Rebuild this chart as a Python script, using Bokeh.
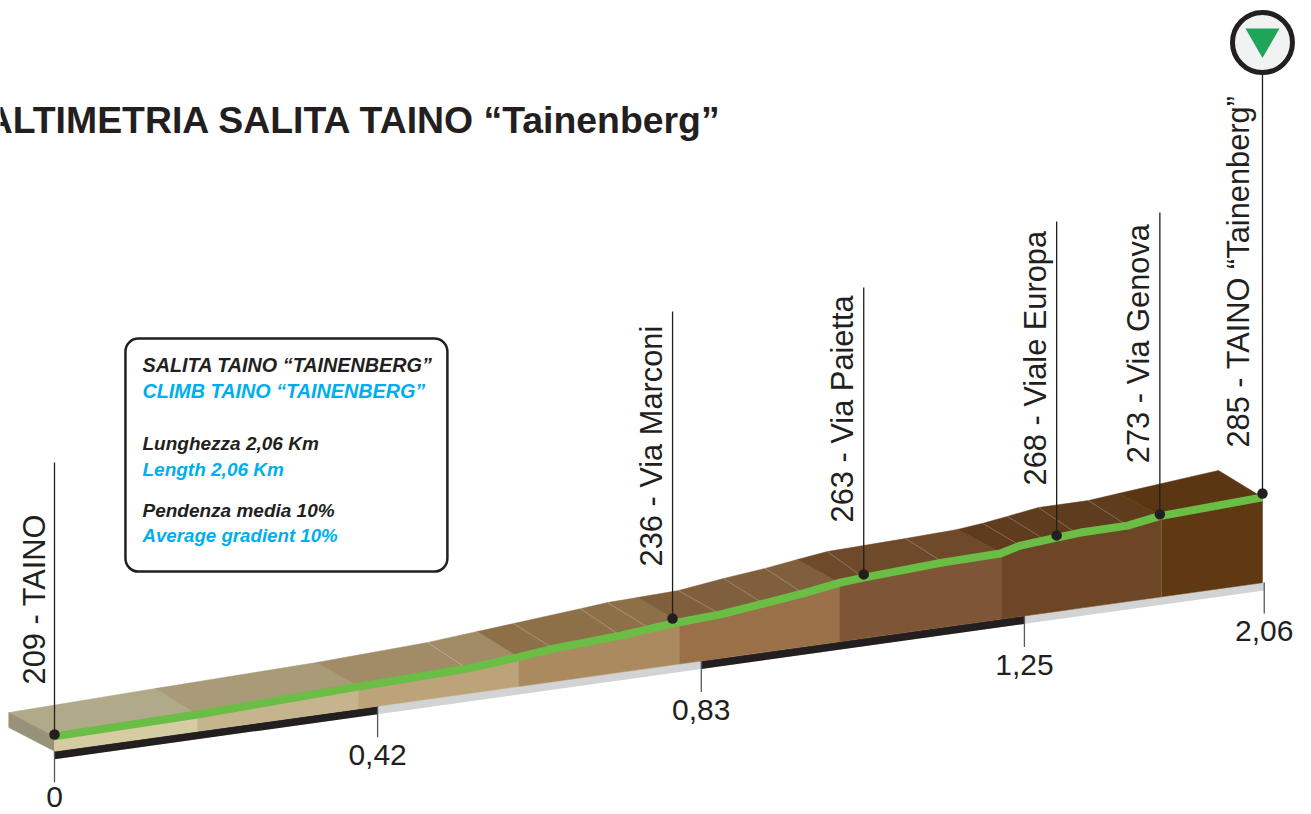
import numpy as np
from bokeh.core.properties import value
from bokeh.embed import file_html
from bokeh.models import ColumnDataSource, Range1d
from bokeh.plotting import figure
from bokeh.resources import INLINE

# --- profile: drawn distance (km) and drawn height (m) ---
profile_km = [0.0, 0.244, 0.518, 0.704, 0.790, 0.851, 0.965, 1.054, 1.136, 1.209, 1.277,
              1.340, 1.380, 1.516, 1.613, 1.647, 1.709, 1.750, 1.830, 1.883, 2.060]
profile_alt = [208.4, 215.3, 224.1, 229.8, 233.3, 236.1, 240.2, 244.0, 246.9, 250.3, 253.5,
               256.9, 258.5, 263.3, 266.1, 268.6, 271.1, 272.7, 274.9, 277.8, 283.8]

# far edge of the road surface
back_km = [-0.078, 0.172, 0.447, 0.636, 0.721, 0.783, 0.897, 0.943, 0.994, 1.064, 1.141,
           1.212, 1.267, 1.318, 1.451, 1.540, 1.583, 1.625, 1.678, 1.763, 1.814, 1.985]
back_alt = [215.9, 223.5, 231.7, 238.0, 241.5, 244.0, 248.7, 250.6, 252.2, 254.4, 258.2,
            261.4, 264.2, 266.7, 270.8, 273.7, 275.6, 277.8, 280.6, 282.8, 285.0, 292.3]

# colour bands: where each band starts/ends on the near and far edge
band_front_km = [0.0, 0.244, 0.518, 0.792, 1.066, 1.339, 1.615, 1.888, 2.060]
band_back_km = [-0.078, 0.172, 0.447, 0.721, 0.994, 1.267, 1.540, 1.814, 1.985]
band_front_colors = ["#d6cca2", "#c6b58c", "#bca379", "#ab8a60",
                     "#9a7048", "#7e5535", "#6d4725", "#5f3912"]
band_top_colors = ["#b0aa8a", "#a99a78", "#a28c68", "#8d7048",
                   "#805f3c", "#6f4a2a", "#603c1e", "#5a3712"]

# thin cross-lines on the surface
crease_back_km = [0.636, 0.783, 0.897, 0.943, 1.064, 1.141, 1.212, 1.318, 1.451, 1.583, 1.625, 1.678, 1.763]
crease_front_km = [0.704, 0.851, 0.965, 1.016, 1.136, 1.209, 1.277, 1.380, 1.516, 1.647, 1.690, 1.743, 1.830]

# ground line
ground_km = [0.0, 2.063]
ground_alt = [203.7, 256.95]
strip_depth = 2.5

# waypoints
way_km = [0.0, 1.054, 1.380, 1.709, 1.885, 2.060]
way_alt = [209.0, 245.6, 259.5, 271.8, 278.5, 285.0]
way_top = [294.8, 342.4, 350.0, 370.8, 373.7, 418.1]
way_labels = ["209 - TAINO", "236 - Via Marconi", "263 - Via Paietta",
              "268 - Viale Europa", "273 - Via Genova", "285 - TAINO “Tainenberg”"]
way_label_lift = [-50, -52, -52, -50, -51, -46]
way_label_side = [-20, -21, -21, -21, -21, -24]

# distance ticks
tick_at = [0.0, 0.551, 1.103, 1.654, 2.063]
tick_labels = ["0", "0,42", "0,83", "1,25", "2,06"]
tick_label_gap = [15, 17.5, 17.5, 17.5, 17.5]
tick_drop = 9.8
black_runs = [(0.0, 0.551), (1.103, 1.654)]

title = "ALTIMETRIA SALITA TAINO “Tainenberg”"
info_lines = ["SALITA TAINO “TAINENBERG”", "CLIMB TAINO “TAINENBERG”",
              "Lunghezza 2,06 Km", "Length 2,06 Km",
              "Pendenza media 10%", "Average gradient 10%"]
info_alt = [323.2, 315.0, 298.6, 290.4, 277.5, 269.6]
info_size = ["19.8px", "19.8px", "19px", "19px", "19px", "18.7px"]
info_colors = ["#231f20", "#00aeef"] * 3

FONT = value("Liberation Sans")
INK = "#231f20"

p = figure(width=1311, height=814, output_backend="svg", toolbar_location=None,
           x_range=Range1d(-0.09209, 2.14359), y_range=Range1d(183.76, 440.54),
           min_border=0, outline_line_color=None, background_fill_color="white")
p.axis.visible = False
p.grid.visible = False


def front_at(k):
    return np.interp(k, profile_km, profile_alt)


def back_at(k):
    return np.interp(k, back_km, back_alt)


def ground_at(k):
    return np.interp(k, ground_km, ground_alt)


def run(arr, a, b):
    arr = np.asarray(arr)
    return [a] + [float(v) for v in arr if a < v < b] + [b]


# road surface bands
top_x, top_y, front_x, front_y = [], [], [], []
for i in range(len(band_front_colors)):
    fa, fb = band_front_km[i], band_front_km[i + 1]
    ba, bb = band_back_km[i], band_back_km[i + 1]
    fk, bk = run(profile_km, fa, fb), run(back_km, ba, bb)
    top_x.append(fk + bk[::-1])
    top_y.append([float(front_at(k)) for k in fk] + [float(back_at(k)) for k in bk[::-1]])
    front_x.append(fk + fk[::-1])
    top_edge = [float(front_at(k)) for k in fk]
    low_edge = [float(ground_at(k)) for k in fk]
    front_y.append(top_edge + low_edge[::-1])

p.patches(top_x, top_y, fill_color=band_top_colors, line_color=band_top_colors, line_width=0.5)

# end face on the left
p.patch([back_km[0], 0.0, 0.0, back_km[0]],
        [back_alt[0], profile_alt[0], ground_alt[0], back_alt[0] - (profile_alt[0] - ground_alt[0])],
        fill_color="#97927a", line_color="#97927a", line_width=0.5)

# creases
p.segment(crease_back_km, [float(back_at(k)) for k in crease_back_km],
          crease_front_km, [float(front_at(k)) for k in crease_front_km],
          line_color="#ffffff", line_alpha=0.35, line_width=0.7)

# ground strip
p.patch(ground_km + ground_km[::-1],
        ground_alt + [ground_alt[1] - strip_depth, ground_alt[0] - strip_depth],
        fill_color="#d1d3d4", line_color=None)
for a, b in black_runs:
    ga, gb = float(ground_at(a)), float(ground_at(b))
    p.patch([a, b, b, a], [ga, gb, gb - strip_depth, ga - strip_depth],
            fill_color=INK, line_color=None)

p.patches(front_x, front_y, fill_color=band_front_colors, line_color=band_front_colors, line_width=0.5)

# light seam on the last band
p.segment([band_front_km[7]], [float(front_at(band_front_km[7]))],
          [band_front_km[7]], [float(ground_at(band_front_km[7]))],
          line_color="#ffffff", line_alpha=0.2, line_width=0.7)

# green road line
p.line(profile_km, profile_alt, line_color="#6abd45", line_width=8, line_join="round")

# distance ticks
tick_top = [float(ground_at(k)) for k in tick_at]
tick_bottom = [t - tick_drop for t in tick_top]
p.segment(tick_at, tick_top, tick_at, tick_bottom, line_color="#58595b", line_width=1.3)
tsrc = ColumnDataSource(dict(x=tick_at, y=tick_bottom, t=tick_labels, o=tick_label_gap))
p.text("x", "y", text="t", source=tsrc, text_font=FONT, text_font_size="30px",
       text_color=INK, text_align="center", text_baseline="alphabetic", y_offset="o")

# waypoint poles, dots, labels
p.segment(way_km, way_alt, way_km, way_top, line_color=INK, line_width=1.3)
p.scatter(way_km, way_alt, size=10.5, fill_color=INK, line_color=None)
src = ColumnDataSource(dict(x=way_km, y=way_alt, t=way_labels, o=way_label_lift, s=way_label_side))
p.text("x", "y", text="t", source=src, angle=np.pi / 2, text_font=FONT, text_font_size="30.8px",
       text_color=INK, text_align="left", text_baseline="alphabetic", x_offset="s", y_offset="o")

# finish badge
p.scatter([2.060], [427.3], size=60, marker="circle", fill_color="#f1f2f2",
          line_color=INK, line_width=5)
p.scatter([2.060], [428.6], size=34, marker="inverted_triangle", fill_color="#1fa55a", line_color=None)

# info box
p.quad(left=[0.121], right=[0.670], top=[333.9], bottom=[260.4], fill_color="white",
       line_color=INK, line_width=2.5, border_radius=13)
for line, alt, size, col in zip(info_lines, info_alt, info_size, info_colors):
    p.text([0.150], [alt], text=[line], text_font=FONT, text_font_style="bold italic",
           text_font_size=size, text_color=col, text_align="left", text_baseline="alphabetic",
           y_offset=-7)

# title
p.text([1.139], [398.6], text=[title], text_font=FONT, text_font_style="bold",
       text_font_size="37.4px", text_color=INK, text_align="right", text_baseline="alphabetic",
       y_offset=-13)

open("out.html", "w").write(file_html(p, INLINE))
